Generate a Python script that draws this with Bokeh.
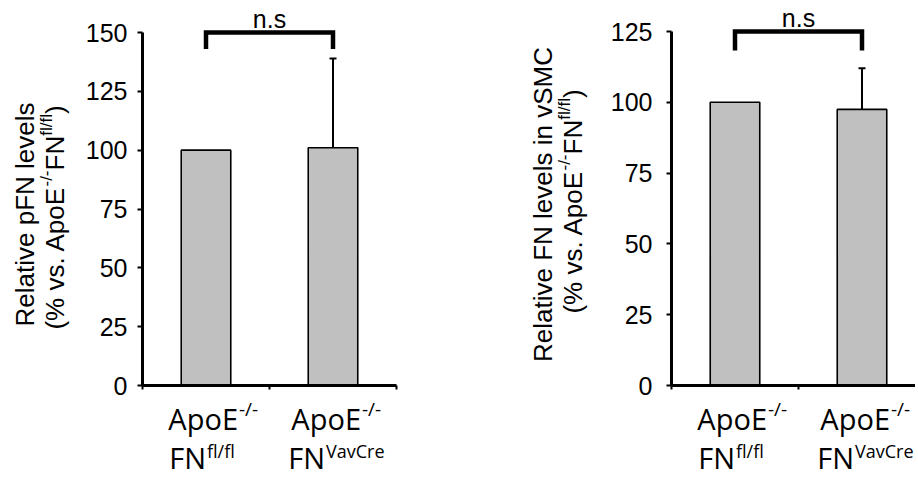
import math
from bokeh.plotting import figure
from bokeh.layouts import row
from bokeh.models import ColumnDataSource, FixedTicker, Whisker, TeeHead, Label, Range1d
from bokeh.embed import file_html
from bokeh.resources import INLINE

# ---------------- data ----------------
cat_main = ["ApoE", "ApoE"]
cat_sup1 = ["-/-", "-/-"]
cat_line2 = ["FN", "FN"]
cat_sup2 = ["fl/fl", "VavCre"]

pfn_mean = [100, 101]
pfn_err = [0, 38]
pfn_ticks = [0, 25, 50, 75, 100, 125, 150]
pfn_bracket = [143, 150]        # leg end, height of significance bracket

vsmc_mean = [100, 97.5]
vsmc_err = [0, 14.5]
vsmc_ticks = [0, 25, 50, 75, 100, 125]
vsmc_bracket = [118.3, 125]

sig_text = "n.s"
title1_pfn = "Relative pFN levels"
title1_vsmc = "Relative FN levels in vSMC"
title2_parts = [("(% vs. ApoE", False), ("-/-", True), ("FN", False), ("fl/fl", True), (")", False)]

# ---------------- layout constants ----------------
PAGE_X = 1
PAGE_Y = 1
H = 477
AXIS_Y = 386                 # reference y of x-axis
PX_CAT = 127                 # pixels per category
TITLE_FONT = "Liberation Sans"
TITLE_SIZE = 26
SUP_SIZE = 17
CAT_FONT = "Open Sans"
DESC = {"Liberation Sans": 0.212, "Open Sans": 0.293}   # baseline correction factors

ARIAL = {'(': 333, '%': 889, ' ': 278, 'v': 500, 's': 500, '.': 278, 'A': 667, 'p': 556,
         'o': 556, 'E': 667, '-': 333, '/': 278, 'F': 611, 'N': 722, 'f': 278, 'l': 222, ')': 333}


def tw(s, size):
    return sum(ARIAL.get(c, 556) for c in s) / 1000.0 * size


def panel(means, errs, ticks, bracket, title1, fig_x0, width, frame_left, px_per_unit,
          label_standoff, t1_base, t1_center, t2_base, t2_center):
    def dx(ref_x):
        return (ref_x - frame_left) / PX_CAT

    def dy(ref_y):
        return (AXIS_Y - ref_y) / px_per_unit

    p = figure(width=width, height=H, output_backend="svg", toolbar_location=None,
               x_range=Range1d(dx(fig_x0), dx(fig_x0 + width)),
               y_range=Range1d(dy(PAGE_Y + H), dy(PAGE_Y)), title=None,
               min_border_left=0, min_border_right=0, min_border_top=0, min_border_bottom=0)
    p.outline_line_color = None
    p.xgrid.grid_line_color = None
    p.ygrid.grid_line_color = None
    p.background_fill_color = "white"
    p.border_fill_color = "white"

    # y axis
    ya = p.yaxis[0]
    ya.fixed_location = 0
    ya.ticker = FixedTicker(ticks=ticks)
    ya.bounds = (0, ticks[-1])
    ya.axis_line_width = 3
    ya.major_tick_line_width = 2
    ya.major_tick_out = 5
    ya.major_tick_in = 0
    ya.minor_tick_line_color = None
    ya.major_label_text_font = "Liberation Sans"
    ya.major_label_text_font_size = "25px"
    ya.major_label_text_color = "black"
    ya.major_label_standoff = label_standoff

    # x axis
    xa = p.xaxis[0]
    xa.fixed_location = 0
    xa.ticker = FixedTicker(ticks=[0, 1, 2])
    xa.bounds = (0, 2)
    xa.axis_line_width = 3
    xa.major_tick_line_width = 2
    xa.major_tick_out = 4
    xa.major_tick_in = 0
    xa.minor_tick_line_color = None
    xa.major_label_overrides = {0: "", 1: "", 2: ""}
    xa.major_label_text_font_size = "0px"

    xs = [0.5, 1.5]
    p.vbar(x=xs, top=means, width=0.39, bottom=0, fill_color="#c0c0c0",
           line_color="black", line_width=1.6)

    # error bars (upper only)
    ex = [x for x, e in zip(xs, errs) if e > 0]
    lo = [m for m, e in zip(means, errs) if e > 0]
    up = [m + e for m, e in zip(means, errs) if e > 0]
    src = ColumnDataSource(dict(x=ex, lower=lo, upper=up))
    p.add_layout(Whisker(source=src, base="x", lower="lower", upper="upper",
                         line_width=2, line_color="black", lower_head=None,
                         upper_head=TeeHead(size=7, line_width=2, line_color="black")))

    def hlabel(ref_x, ref_base, text, font, size, align):
        yb = ref_base - DESC[font] * size
        p.add_layout(Label(x=dx(ref_x), y=dy(yb), text=text, text_font=font,
                           text_font_size=f"{size}px", text_color="black",
                           text_align=align, text_baseline="alphabetic"))

    def vlabel(ref_base, ref_y, text, font, size, align):
        xb = ref_base - DESC[font] * size
        p.add_layout(Label(x=dx(xb), y=dy(ref_y), text=text, angle=math.pi / 2,
                           text_font=font, text_font_size=f"{size}px", text_color="black",
                           text_align=align, text_baseline="alphabetic"))

    # significance bracket
    p.line(x=[xs[0], xs[0], xs[1], xs[1]], y=[bracket[0], bracket[1], bracket[1], bracket[0]],
           line_width=4.5, line_color="black", line_join="miter", line_cap="butt")
    bref = AXIS_Y - bracket[1] * px_per_unit
    cref_mid = frame_left + (xs[0] + xs[1]) / 2 * PX_CAT
    hlabel(cref_mid, bref - 8, sig_text, "Liberation Sans", 25, "center")

    # category labels
    offs = [(32, 0), (28, -8)]
    for i, cx in enumerate(xs):
        cref = frame_left + cx * PX_CAT
        o1, o2 = offs[i]
        hlabel(cref + o1, AXIS_Y + 41, cat_main[i], CAT_FONT, 29, "right")
        hlabel(cref + o1 + 1, AXIS_Y + 29, cat_sup1[i], CAT_FONT, 19, "left")
        hlabel(cref + o2, AXIS_Y + 80, cat_line2[i], CAT_FONT, 29, "right")
        hlabel(cref + o2 + 1, AXIS_Y + 71, cat_sup2[i], CAT_FONT, 18, "left")

    # y-axis title, line 1
    vlabel(t1_base, t1_center, title1, TITLE_FONT, TITLE_SIZE, "center")
    # y-axis title, line 2 with superscripts
    total = sum(tw(s, SUP_SIZE if sup else TITLE_SIZE) for s, sup in title2_parts)
    pos = t2_center + total / 2
    for s, sup in title2_parts:
        size = SUP_SIZE if sup else TITLE_SIZE
        bx = t2_base - (10 if sup else 0)
        vlabel(bx, pos, s, TITLE_FONT, size, "left")
        pos -= tw(s, size)
    return p


W1 = 420
W2 = 495
p1 = panel(pfn_mean, pfn_err, pfn_ticks, pfn_bracket, title1_pfn,
           fig_x0=PAGE_X, width=W1, frame_left=143, px_per_unit=353 / 150,
           label_standoff=10, t1_base=31, t1_center=215, t2_base=61, t2_center=218)
p2 = panel(vsmc_mean, vsmc_err, vsmc_ticks, vsmc_bracket, title1_vsmc,
           fig_x0=PAGE_X + W1, width=W2, frame_left=672, px_per_unit=354 / 125,
           label_standoff=14, t1_base=549, t1_center=205, t2_base=579, t2_center=202)

layout = row(p1, p2)
open("out.html", "w").write(file_html(layout, INLINE))
